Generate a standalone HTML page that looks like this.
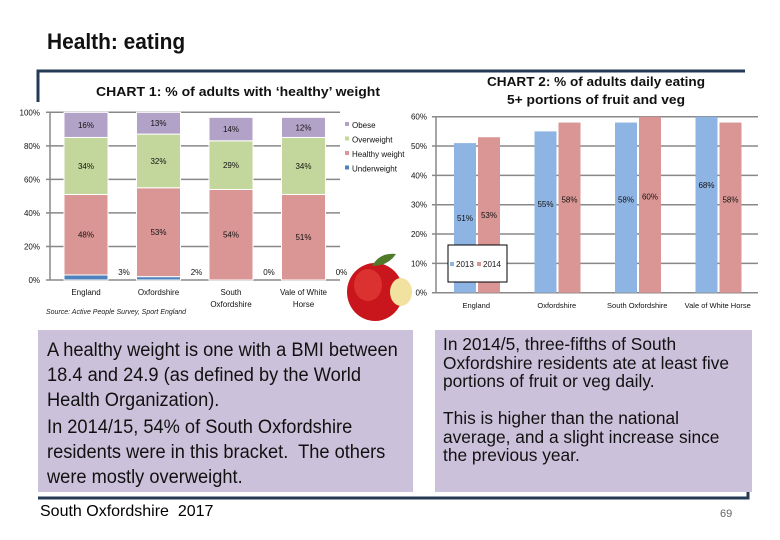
<!DOCTYPE html>
<html><head><meta charset="utf-8"><style>
body{margin:0;width:780px;height:540px;background:#fff;position:relative;overflow:hidden;font-family:"Liberation Sans",sans-serif}
.box{position:absolute;background:#ccc1da;color:#111;overflow:hidden}
.cond{position:absolute;white-space:nowrap;transform-origin:0 0}
</style></head><body>
<div style="position:absolute;left:47px;top:29px;font-size:22px;font-weight:bold;color:#111;transform:scaleX(0.95);transform-origin:0 0;white-space:nowrap">Health: eating</div>
<svg width="780" height="540" style="position:absolute;left:0;top:0" id="s">
<path d="M38 102 V71 H745" stroke="#243a55" stroke-width="3" fill="none"/>
<path d="M38 498 H748 V486" stroke="#243a55" stroke-width="3" fill="none"/>
<text x="238" y="96" text-anchor="middle" font-size="13" font-weight="bold" fill="#111" textLength="284" lengthAdjust="spacingAndGlyphs">CHART 1: % of adults with ‘healthy’ weight</text>
<text x="596" y="86" text-anchor="middle" font-size="13" font-weight="bold" fill="#111" textLength="218" lengthAdjust="spacingAndGlyphs">CHART 2: % of adults daily eating</text>
<text x="596" y="104" text-anchor="middle" font-size="13" font-weight="bold" fill="#111" textLength="178" lengthAdjust="spacingAndGlyphs">5+ portions of fruit and veg</text>
<g id="c1"></g><g id="c2"></g>
<g>
<ellipse cx="375" cy="292" rx="28" ry="29" fill="#c8161c"/>
<ellipse cx="368" cy="285" rx="14" ry="16" fill="#e8453f" opacity=".6"/>
<ellipse cx="401" cy="292" rx="11" ry="14" fill="#f2e2a0"/>
<path d="M372 266 q8 -14 24 -12 q-8 12 -24 12z" fill="#4f7a2a"/>
</g>
<text x="46" y="314" font-size="7" font-style="italic" fill="#222" textLength="140" lengthAdjust="spacingAndGlyphs">Source: Active People Survey, Sport England</text>
</svg>
<div class="box" style="left:38px;top:330px;width:375px;height:162px">
<div class="cond" style="left:9px;top:8px;font-size:19px;line-height:25px;transform:scaleX(0.96)">A healthy weight is one with a BMI between<br>18.4 and 24.9 (as defined by the World<br>Health Organization).<div style="height:2px"></div>In 2014/15, 54% of South Oxfordshire<br>residents were in this bracket.&nbsp; The others<br>were mostly overweight.</div></div>
<div class="box" style="left:435px;top:330px;width:317px;height:162px">
<div class="cond" style="left:8px;top:5px;font-size:17.5px;line-height:18.5px;transform:scaleX(0.99)">In 2014/5, three-fifths of South<br>Oxfordshire residents ate at least five<br>portions of fruit or veg daily.<br><br>This is higher than the national<br>average, and a slight increase since<br>the previous year.</div></div>
<div style="position:absolute;left:40px;top:503px;font-size:16px;white-space:nowrap">South Oxfordshire&nbsp; 2017</div>
<div style="position:absolute;left:720px;top:508px;font-size:11px;color:#666">69</div>
<script>
const categories1=["England","Oxfordshire","South Oxfordshire","Vale of White Horse"];
const underweight=[3,2,0,0];
const healthy=[48,53,54,51];
const overweight=[34,32,29,34];
const obese=[16,13,14,12];
const ticks1=[0,20,40,60,80,100];
const categories2=["England","Oxfordshire","South Oxfordshire","Vale of White Horse"];
const y2013=[51,55,58,68];
const y2014=[53,58,60,58];
const ticks2=[0,10,20,30,40,50,60];
const NS="http://www.w3.org/2000/svg";
function el(p,t,a,txt){const e=document.createElementNS(NS,t);for(const k in a)e.setAttribute(k,a[k]);if(txt!==undefined)e.textContent=txt;p.appendChild(e);return e;}
const g1=document.getElementById('c1');
const x0=50,x1=340,yb=280,yt=112.3;
const Y1=v=>yb-(Math.min(v,100))/100*(yb-yt);
const cw1=(x1-x0)/4;
ticks1.forEach(t=>{
 const l=el(g1,'line',{x1:x0-4,x2:x1,y1:Y1(t),y2:Y1(t),stroke:'#888','stroke-width':1.5});
 
 
 const tx=el(g1,'text',{x:x0-10,y:Y1(t)+3,'text-anchor':'end','font-size':8,fill:'#111'},t+'%');
 
 
});
const ax=el(g1,'line',{x1:x0,x2:x0,y1:yt,y2:yb,stroke:'#888','stroke-width':1.5});


const series=[[underweight,'#4f81bd','underweight'],[healthy,'#d99694','healthy'],[overweight,'#c3d69b','overweight'],[obese,'#b3a2c7','obese']];
categories1.forEach((c,i)=>{
 const bx=x0+i*cw1+14,bw=44;let acc=0;
 series.forEach(([arr,col,nm])=>{
  const v=arr[i];const a=Y1(acc),b=Y1(acc+v);acc+=v;
  const r=el(g1,'rect',{x:bx,y:b,width:bw,height:Math.max(0,a-b),fill:col,stroke:'#fff','stroke-width':1});
  
  
  const lx=nm==='underweight'?bx+bw+16:bx+bw/2, ly=nm==='underweight'?Y1(0)-5:(a+b)/2+3;
  const t=el(g1,'text',{x:lx,y:ly,'text-anchor':'middle','font-size':8,fill:'#111'},v+'%');
  
  
 });
 const words=c==="South Oxfordshire"?["South","Oxfordshire"]:c==="Vale of White Horse"?["Vale of White","Horse"]:[c];
 words.forEach((w,k)=>{const t=el(g1,'text',{x:bx+bw/2,y:295+k*12,'text-anchor':'middle','font-size':8,fill:'#111'},w);
 
 });
});
[['Obese','#b3a2c7'],['Overweight','#c3d69b'],['Healthy weight','#d99694'],['Underweight','#4f81bd']].forEach(([n,c],k)=>{
 const r=el(g1,'rect',{x:345,y:122+k*14.5,width:4,height:4,fill:c});
 
 
 const t=el(g1,'text',{x:352,y:128+k*14.5,'font-size':8,fill:'#111'},n);
 
 
});
const g2=document.getElementById('c2');
const X0=436,X1=758,Yb=292.7,Yt=116.7;
const Y2=v=>Yb-Math.min(v,60)/60*(Yb-Yt);
const cw2=(X1-X0)/4;
ticks2.forEach(t=>{
 const l=el(g2,'line',{x1:X0-4,x2:X1,y1:Y2(t),y2:Y2(t),stroke:'#888','stroke-width':1.5});
 
 
 const tx=el(g2,'text',{x:X0-9,y:Y2(t)+3,'text-anchor':'end','font-size':8,fill:'#111'},t+'%');
 
 
});
const ax2=el(g2,'line',{x1:X0,x2:X0,y1:Yt,y2:Yb,stroke:'#888','stroke-width':1.5});


categories2.forEach((c,i)=>{
 const cx=X0+i*cw2;
 [[y2013,'#8eb4e3',18,'2013'],[y2014,'#d99694',42,'2014']].forEach(([arr,col,off,yr])=>{
  const v=arr[i];
  const r=el(g2,'rect',{x:cx+off,y:Y2(v),width:22,height:Yb-Y2(v),fill:col});
  
  
  const t=el(g2,'text',{x:cx+off+11,y:Y2(v*0.5)-5+(i===0?8:0),'text-anchor':'middle','font-size':8,fill:'#111'},v+'%');
  
  
 });
 const t=el(g2,'text',{x:cx+cw2/2,y:308,'text-anchor':'middle','font-size':7.5,fill:'#111'},c);
 
 
});
const lb=el(g2,'rect',{x:448,y:245,width:59,height:37,fill:'#fff',stroke:'#000','stroke-width':1});


[['2013','#8eb4e3',450],['2014','#d99694',477]].forEach(([n,c,x])=>{
 const r=el(g2,'rect',{x:x,y:262,width:4,height:4,fill:c});
 
 
 const t=el(g2,'text',{x:x+6,y:267,'font-size':8,fill:'#111'},n);
 
 
});
</script>
</body></html>
